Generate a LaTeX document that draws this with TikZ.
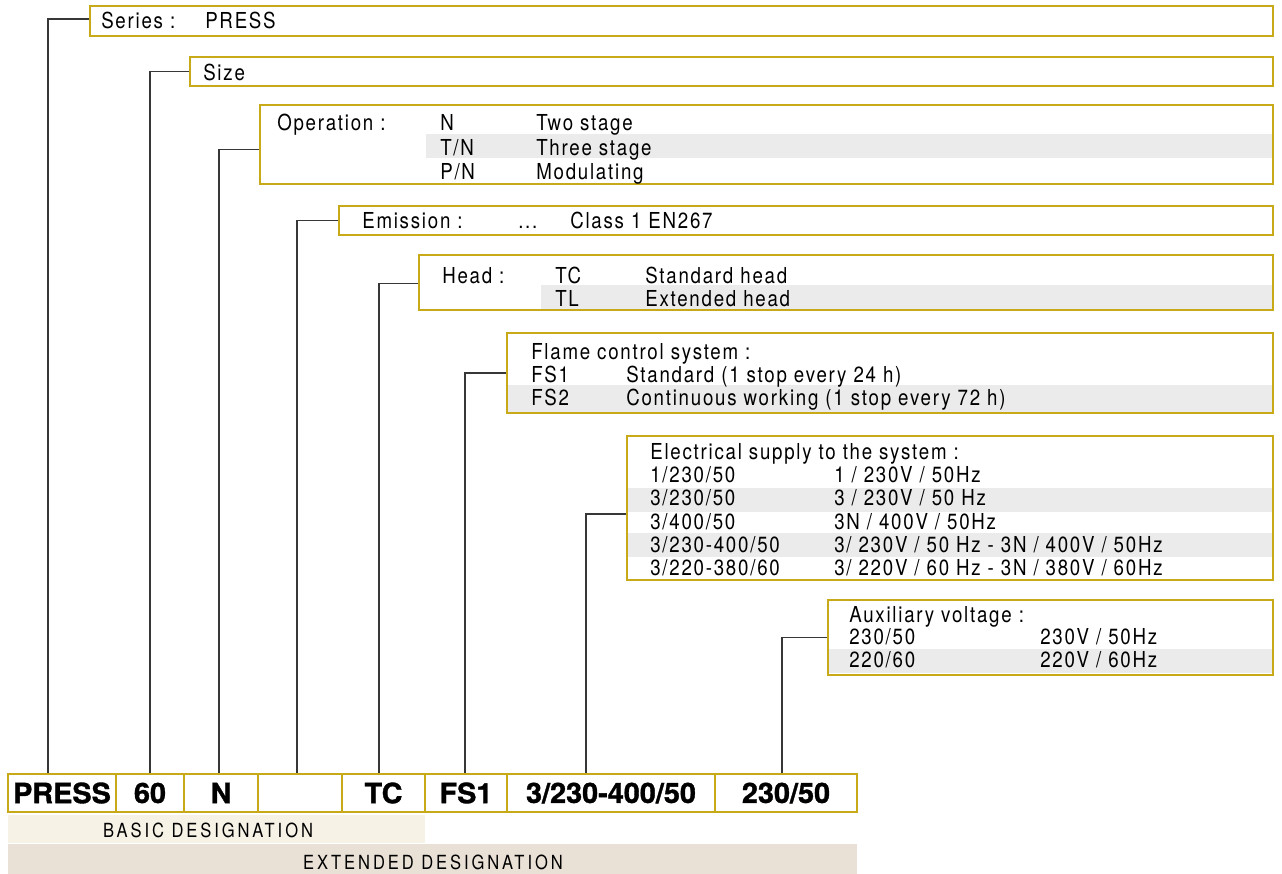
\documentclass[tikz,border=0pt]{standalone}
\usepackage{fontspec}
\setmainfont{TeX Gyre Heros}[FakeStretch=0.85,LetterSpace=8]
\newfontfamily\boldfam{TeX Gyre Heros}[FakeStretch=1.03,FakeBold=1.2]
\newfontfamily\widefam{TeX Gyre Heros}[FakeStretch=0.85,LetterSpace=15]
\usetikzlibrary{fit,calc}
\definecolor{goldline}{RGB}{200,170,25}
\definecolor{bandgray}{RGB}{235,235,235}
\definecolor{creamfill}{RGB}{247,242,230}
\definecolor{beigefill}{RGB}{234,225,214}
\definecolor{conncol}{RGB}{55,55,55}
\begin{document}
\begin{tikzpicture}[x=0.75pt,y=-0.75pt,
  box/.style={draw=goldline,line width=1.6pt,inner sep=0pt},
  txt/.style={anchor=base west,inner sep=0pt,font=\fontsize{16.5}{19}\selectfont},
  celltxt/.style={anchor=center,inner sep=0pt,font=\boldfam\bfseries\fontsize{21}{25}\selectfont},
  desig/.style={anchor=base,inner sep=0pt,font=\widefam\fontsize{14.6}{17}\selectfont},
  conn/.style={draw=conncol,line width=0.85pt}]
\useasboundingbox (0,0) rectangle (1282,874);

% bands
\fill[bandgray] (426,134) rectangle (1272,158);
\fill[bandgray] (541,285) rectangle (1272,309);
\fill[bandgray] (507,385) rectangle (1272,412);
\fill[bandgray] (627,488) rectangle (1272,512);
\fill[bandgray] (627,533) rectangle (1272,557);
\fill[bandgray] (828,649) rectangle (1272,673);
\fill[creamfill] (8,815) rectangle (425,843);
\fill[beigefill] (8,844) rectangle (857,874);

% boxes
\node[box,fit={(90,6)(1273,36)}] (series) {};
\node[box,fit={(190,57)(1273,86)}] (size) {};
\node[box,fit={(260,105)(1273,184)}] (oper) {};
\node[box,fit={(339,206)(1273,235)}] (emis) {};
\node[box,fit={(419,255)(1273,310)}] (head) {};
\node[box,fit={(507,333)(1273,413)}] (flame) {};
\node[box,fit={(627,436)(1273,580)}] (elec) {};
\node[box,fit={(828,600)(1273,675)}] (aux) {};

% bottom cells
\node[box,fit={(8,774)(116,812)}] (c1) {};
\node[box,fit={(116,774)(184,812)}] (c2) {};
\node[box,fit={(184,774)(258,812)}] (c3) {};
\node[box,fit={(258,774)(342,812)}] (c4) {};
\node[box,fit={(342,774)(425,812)}] (c5) {};
\node[box,fit={(425,774)(507,812)}] (c6) {};
\node[box,fit={(507,774)(715,812)}] (c7) {};
\node[box,fit={(715,774)(857,812)}] (c8) {};
\node[celltxt] (t1) at (c1.center) {PRESS};
\node[celltxt] (t2) at (c2.center) {60};
\node[celltxt] (t3) at (c3.center) {N};
\node[celltxt] (t5) at (c5.center) {TC};
\node[celltxt] (t6) at (c6.center) {FS1};
\node[celltxt] (t7) at (c7.center) {3/230-400/50};
\node[celltxt] (t8) at (c8.center) {230/50};
\node[desig] (basic) at (208,837) {BASIC DESIGNATION};
\node[desig] (ext) at (433,869) {EXTENDED DESIGNATION};

% texts
\node[txt] (s1) at (101,29) {Series :};
\node[txt] (s2) at (205,29) {PRESS};
\node[txt] (z1) at (203,80) {Size};
\node[txt] (o1) at (277,131) {Operation :};
\node[txt] (o2) at (440,131) {N};
\node[txt] (o3) at (536,131) {Two stage};
\node[txt] (o4) at (440,155) {T/N};
\node[txt] (o5) at (536,155) {Three stage};
\node[txt] (o6) at (440,179) {P/N};
\node[txt] (o7) at (536,179) {Modulating};
\node[txt] (e1) at (362,228) {Emission :};
\node[txt] (e2) at (518,228) {...};
\node[txt] (e3) at (570,228) {Class 1 EN267};
\node[txt] (h1) at (442,283) {Head :};
\node[txt] (h2) at (555,283) {TC};
\node[txt] (h3) at (645,283) {Standard head};
\node[txt] (h4) at (555,306) {TL};
\node[txt] (h5) at (645,306) {Extended head};
\node[txt] (f1) at (531,359) {Flame control system :};
\node[txt] (f2) at (531,382) {FS1};
\node[txt] (f3) at (626,382) {Standard (1 stop every 24 h)};
\node[txt] (f4) at (531,405) {FS2};
\node[txt] (f5) at (626,405) {Continuous working (1 stop every 72 h)};
\node[txt] (l0) at (650,459) {Electrical supply to the system :};
\node[txt] (l1) at (650,482) {1/230/50};
\node[txt] (l2) at (834,482) {1 / 230V / 50Hz};
\node[txt] (l3) at (650,505) {3/230/50};
\node[txt] (l4) at (834,505) {3 / 230V / 50 Hz};
\node[txt] (l5) at (650,529) {3/400/50};
\node[txt] (l6) at (834,529) {3N / 400V / 50Hz};
\node[txt] (l7) at (650,552) {3/230-400/50};
\node[txt] (l8) at (834,552) {3/ 230V / 50 Hz - 3N / 400V / 50Hz};
\node[txt] (l9) at (650,575) {3/220-380/60};
\node[txt] (l10) at (834,575) {3/ 220V / 60 Hz - 3N / 380V / 60Hz};
\node[txt] (a0) at (849,622) {Auxiliary voltage :};
\node[txt] (a1) at (849,644) {230/50};
\node[txt] (a2) at (1040,644) {230V / 50Hz};
\node[txt] (a3) at (849,667) {220/60};
\node[txt] (a4) at (1040,667) {220V / 60Hz};

% connectors
\draw[conn] ($(c1.north west)+(41,0)$) |- ($(series.west)+(0,-2)$);
\draw[conn] ($(c2.north west)+(35,0)$) |- (size.west);
\draw[conn] ($(c3.north west)+(36,0)$) |- ($(oper.west)+(0,5)$);
\draw[conn] ($(c4.north west)+(40,0)$) |- (emis.west);
\draw[conn] ($(c5.north west)+(38,0)$) |- ($(head.west)+(0,1)$);
\draw[conn] ($(c6.north west)+(41,0)$) |- (flame.west);
\draw[conn] ($(c7.north west)+(80,0)$) |- ($(elec.west)+(0,6)$);
\draw[conn] ($(c8.north west)+(68,0)$) |- (aux.west);
\end{tikzpicture}
\end{document}
